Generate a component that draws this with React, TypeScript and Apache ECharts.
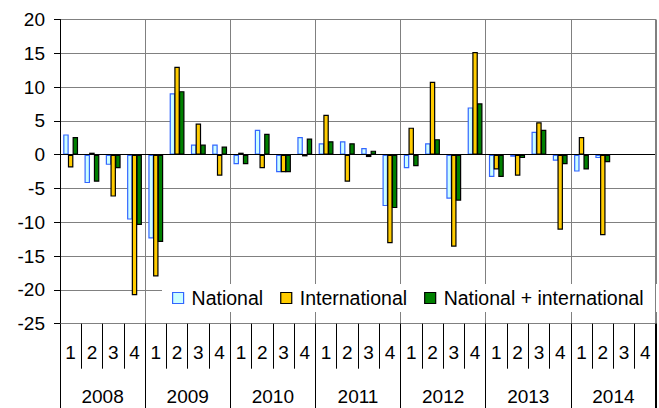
import React, { useEffect, useRef } from "react";
import * as echarts from "echarts";

const quarters = [
  "1", "2", "3", "4", "1", "2", "3", "4", "1", "2", "3", "4", "1", "2",
  "3", "4", "1", "2", "3", "4", "1", "2", "3", "4", "1", "2", "3", "4",
];
const years = ["2008", "2009", "2010", "2011", "2012", "2013", "2014"];

const national = [
  3.0, -4.2, -1.5, -9.6, -12.4, 9.1, 1.5, 1.5, -1.4, 3.7, -2.6, 2.6, 1.7, 2.0,
  1.0, -7.6, -2.0, 1.7, -6.5, 7.0, -3.3, -0.3, 3.4, -0.9, -2.5, -0.5, null, null,
];
const international = [
  -1.9, 0.3, -6.2, -20.8, -18.0, 13.0, 4.6, -3.1, 0.3, -2.0, -2.6, -0.25, 5.9,
  -4.0, -0.35, -13.1, 4.0, 10.8, -13.6, 15.2, -2.2, -3.1, 4.8, -11.1, 2.6,
  -11.9, null, null,
];
const combined = [
  2.6, -4.0, -2.0, -10.4, -12.9, 9.4, 1.5, 1.2, -1.4, 3.1, -2.6, 2.4, 2.0, 1.7,
  0.6, -7.9, -1.7, 2.3, -6.8, 7.6, -3.3, -0.5, 3.7, -1.4, -2.2, -1.1, null, null,
];

const seriesNames = ["National", "International", "National + international"];

const FONT = "'Liberation Sans', Arial, sans-serif";

export default function App() {
  const ref = useRef<HTMLDivElement>(null);

  useEffect(() => {
    if (!ref.current) return;
    const chart = echarts.init(ref.current, undefined, { renderer: "svg" });

    const styles = [
      { color: "#ccffff", borderColor: "#3366ff", borderWidth: 1.2 },
      { color: "#ffcc00", borderColor: "#000000", borderWidth: 1.2 },
      { color: "#008000", borderColor: "#000000", borderWidth: 1.2 },
    ];
    const datas = [national, international, combined];

    chart.setOption({
      animation: false,
      textStyle: { fontFamily: FONT, color: "#000" },
      grid: {
        left: 60,
        top: 19.5,
        right: 3,
        bottom: 84.3,
        containLabel: false,
        show: false,
      },
      legend: {
        left: 162,
        top: 284,
        backgroundColor: "#ffffff",
        padding: [4, 14, 4, 10],
        itemWidth: 11,
        itemHeight: 11,
        itemGap: 17,
        icon: "rect",
        textStyle: {
          fontSize: 19.5,
          color: "#000",
          fontFamily: FONT,
          padding: [0, 0, 0, 3],
        },
        data: seriesNames.map((n, i) => ({ name: n, itemStyle: styles[i] })),
      },
      xAxis: [
        {
          type: "category",
          data: quarters,
          position: "bottom",
          boundaryGap: true,
          axisLine: { show: true, onZero: false, lineStyle: { color: "#808080", width: 1 } },
          axisTick: {
            show: true,
            interval: 0,
            length: 45,
            lineStyle: { color: "#000", width: 1 },
          },
          axisLabel: {
            interval: 0,
            margin: 19,
            fontSize: 19,
            color: "#000",
            fontFamily: FONT,
          },
          splitLine: { show: false },
        },
        {
          type: "category",
          data: years,
          position: "bottom",
          boundaryGap: true,
          axisLine: { show: false, onZero: false },
          axisTick: {
            show: true,
            interval: 0,
            length: 85,
            lineStyle: { color: "#000", width: 1 },
          },
          axisLabel: {
            interval: 0,
            margin: 63,
            fontSize: 19,
            color: "#000",
            fontFamily: FONT,
          },
          splitLine: {
            show: true,
            interval: 0,
            lineStyle: { color: "#808080", width: 1 },
          },
        },
      ],
      yAxis: {
        type: "value",
        min: -25,
        max: 20,
        interval: 5,
        axisLine: { show: true, lineStyle: { color: "#000", width: 1 } },
        axisTick: { show: true, length: 6, lineStyle: { color: "#000" } },
        axisLabel: { margin: 15, fontSize: 19, color: "#000", fontFamily: FONT },
        splitLine: { show: true, lineStyle: { color: "#808080", width: 1 } },
      },
      series: seriesNames.map((n, i) => ({
        name: n,
        type: "bar",
        xAxisIndex: 0,
        data: datas[i],
        barWidth: 5.5,
        barGap: "-15%",
        itemStyle: styles[i],
        markLine:
          i === 0
            ? {
                silent: true,
                symbol: "none",
                label: { show: false },
                lineStyle: { color: "#000", width: 1, type: "solid" },
                data: [{ yAxis: 0 }],
              }
            : undefined,
      })),
    });

    // right frame edge of the plot, continuing down through the year row
    const grid: any = (chart as any).getModel().getComponent("grid", 0);
    const rect = grid.coordinateSystem.getRect();
    const xr = Math.round(rect.x + rect.width) - 0.5;
    chart.setOption({
      graphic: [
        {
          type: "line",
          silent: true,
          shape: { x1: xr, y1: rect.y, x2: xr, y2: rect.y + rect.height },
          style: { stroke: "#808080", lineWidth: 1 },
          z: 5,
        },
        {
          type: "line",
          silent: true,
          shape: { x1: xr, y1: rect.y + rect.height, x2: xr, y2: 408 },
          style: { stroke: "#000", lineWidth: 1 },
          z: 5,
        },
      ],
    });

    return () => chart.dispose();
  }, []);

  return (
    <div
      ref={ref}
      style={{ position: "fixed", left: 0, top: 0, width: 659, height: 408, background: "#fff" }}
    />
  );
}
